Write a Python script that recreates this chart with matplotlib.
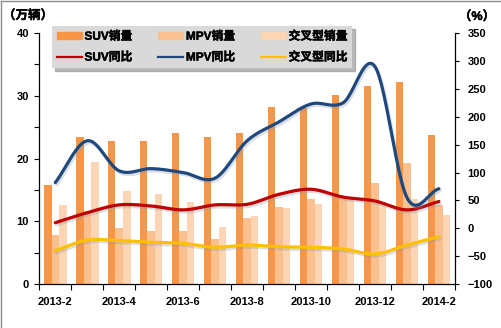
import numpy as np
import matplotlib
matplotlib.use('Agg')
import matplotlib.pyplot as plt
import matplotlib.patheffects as pe
from matplotlib.lines import Line2D
from matplotlib.patches import Patch

plt.rcParams['font.family'] = ['Liberation Sans', 'Noto Sans CJK SC']
plt.rcParams['font.weight'] = 'bold'

months = ['2013-2', '2013-3', '2013-4', '2013-5', '2013-6', '2013-7', '2013-8',
          '2013-9', '2013-10', '2013-11', '2013-12', '2014-1', '2014-2']

# monthly sales, 10k vehicles
suv_sales = [15.8, 23.4, 22.8, 22.8, 24.0, 23.4, 24.0, 28.3, 28.0, 30.1, 31.6, 32.2, 23.7]
mpv_sales = [7.8, 11.6, 9.0, 8.4, 8.4, 7.2, 10.5, 12.3, 13.5, 14.0, 16.1, 19.3, 12.6]
cross_sales = [12.6, 19.5, 14.8, 14.3, 13.0, 9.1, 10.8, 12.1, 12.8, 13.4, 13.1, 13.5, 11.0]

# year-on-year growth, %
suv_yoy = [10, 28, 42, 40, 33, 42, 43, 61, 70, 56, 49, 33, 48]
mpv_yoy = [82, 157, 103, 107, 100, 90, 157, 191, 223, 225, 290, 55, 71]
cross_yoy = [-40, -21, -22, -25, -27, -34, -30, -33, -34, -37, -46, -30, -15]

C_SUV, C_MPV, C_CROSS = '#F79646', '#FAC090', '#FCD5B5'
L_SUV, L_MPV, L_CROSS = '#C00000', '#1F497D', '#FFC000'


def smooth(x, y, n=24):
    """Catmull-Rom curve through the points (Excel-style smoothed line)."""
    pts = np.column_stack([x, y]).astype(float)
    p = np.vstack([2 * pts[0] - pts[1], pts, 2 * pts[-1] - pts[-2]])
    t = np.linspace(0, 1, n, endpoint=False)[:, None]
    out = []
    for i in range(1, len(p) - 2):
        p0, p1, p2, p3 = p[i - 1], p[i], p[i + 1], p[i + 2]
        seg = 0.5 * (2 * p1 + (-p0 + p2) * t + (2 * p0 - 5 * p1 + 4 * p2 - p3) * t ** 2
                     + (-p0 + 3 * p1 - 3 * p2 + p3) * t ** 3)
        out.append(seg)
    out.append(pts[-1:])
    c = np.vstack(out)
    return c[:, 0], c[:, 1]


fig = plt.figure(figsize=(5.01, 3.28), dpi=100)
ax = fig.add_axes([0.0785, 0.134, 0.8295, 0.765])
ax2 = ax.twinx()

x = np.arange(len(months))
w = 0.235
ax.bar(x - w, suv_sales, w, color=C_SUV, linewidth=0)
ax.bar(x, mpv_sales, w, color=C_MPV, linewidth=0)
ax.bar(x + w, cross_sales, w, color=C_CROSS, linewidth=0)

shadow = [pe.SimpleLineShadow(offset=(1.0, -1.6), shadow_color='#8a96a8', alpha=0.3),
          pe.Normal()]
for vals, col in [(cross_yoy, L_CROSS), (suv_yoy, L_SUV), (mpv_yoy, L_MPV)]:
    sx, sy = smooth(x, vals)
    ax2.plot(sx, sy, color=col, lw=2.3, solid_capstyle='round', path_effects=shadow)

ax.set_xlim(-0.5, len(months) - 0.5)
ax.set_ylim(0, 40)
ax2.set_ylim(-100, 350)

ax.set_yticks(np.arange(0, 41, 10))
ax.set_yticks(np.arange(0, 41, 5), minor=True)
ax2.set_yticks(np.arange(-100, 351, 50))

ax.set_xticks(x[::2])
ax.set_xticklabels(months[::2])
ax.set_xticks(np.arange(-0.5, len(months), 1), minor=True)
ax.tick_params(axis='x', which='major', length=0, pad=9, labelsize=8)
ax.tick_params(axis='x', which='minor', length=4, width=0.8)
ax.tick_params(axis='y', which='both', length=3.5, width=0.8, labelsize=8, pad=4)
ax2.tick_params(axis='y', length=3, width=0.8, labelsize=8, pad=6)

for a in (ax, ax2):
    a.spines['top'].set_visible(False)
    for s in ('left', 'right', 'bottom'):
        a.spines[s].set_color('black')
        a.spines[s].set_linewidth(0.9)
ax.spines['right'].set_visible(False)
ax2.spines['left'].set_visible(False)
ax2.spines['bottom'].set_visible(False)

# thin stroke to give the CJK glyphs a bolder weight
heavy = [pe.withStroke(linewidth=0.3, foreground='black')]
fig.text(28 / 501, 1 - 16 / 328, '（万辆）', ha='center', va='center', fontsize=9,
         path_effects=heavy)
fig.text(477 / 501, 1 - 17 / 328, '（%）', ha='center', va='center', fontsize=9,
         path_effects=heavy)

handles = [Patch(color=C_SUV), Line2D([], [], color=L_SUV, lw=1.6),
           Patch(color=C_MPV), Line2D([], [], color=L_MPV, lw=1.6),
           Patch(color=C_CROSS), Line2D([], [], color=L_CROSS, lw=1.6)]
labels = ['SUV销量', 'SUV同比', 'MPV销量', 'MPV同比', '交叉型销量', '交叉型同比']
leg = fig.legend(handles, labels, ncol=3, loc='upper left',
                 bbox_to_anchor=(52 / 501, 1 - 26 / 328), borderaxespad=0,
                 fontsize=8.5, frameon=True, fancybox=False,
                 facecolor='#D9D9D9', edgecolor='none', framealpha=1,
                 shadow={'color': '#8c8c8c', 'alpha': 0.6},
                 handlelength=2.1, handleheight=0.6, handletextpad=0.25,
                 columnspacing=2.2, labelspacing=0.75,
                 borderpad=0.4)
for t in leg.get_texts():
    t.set_path_effects(heavy)

# thin grey frame around the chart
fig.add_artist(Line2D([0.002, 0.002], [0, 0.997], color='#8c8c8c', lw=1,
                      transform=fig.transFigure))
fig.add_artist(Line2D([0.002, 1], [0.997, 0.997], color='#8c8c8c', lw=1,
                      transform=fig.transFigure))

fig.savefig('out.png', dpi=100)
